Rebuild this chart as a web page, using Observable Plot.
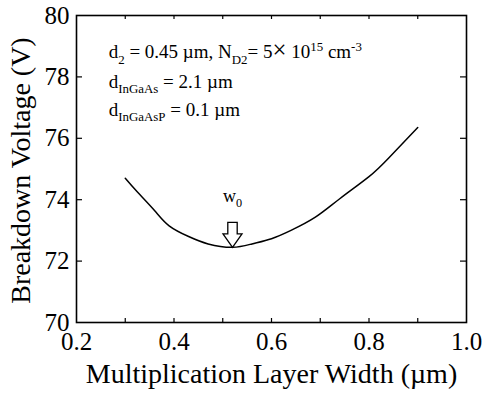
<!DOCTYPE html>
<html><head><meta charset="utf-8">
<script src="https://cdn.jsdelivr.net/npm/d3@7"></script>
<script src="https://cdn.jsdelivr.net/npm/@observablehq/plot@0.6"></script>
<style>body{margin:0;background:#fff}</style>
</head><body><div id="chart"></div>
<script>
// ---- data ----
const widths   = [0.30, 0.325, 0.36, 0.39, 0.43, 0.47, 0.52, 0.56, 0.60, 0.64, 0.69, 0.74, 0.80, 0.84, 0.90];
const voltages = [74.70, 74.25, 73.65, 73.15, 72.80, 72.56, 72.45, 72.56, 72.73, 73.00, 73.43, 74.03, 74.75, 75.35, 76.35];
const xTickValues = [0.2, 0.4, 0.6, 0.8, 1.0];
const xMinorTicks = [0.3, 0.4, 0.5, 0.6, 0.7, 0.8, 0.9];
const yTickValues = [70, 72, 74, 76, 78, 80];
const yInnerTicks = [72, 74, 76, 78];
const xTitle = "Multiplication Layer Width (µm)";
const yTitle = "Breakdown Voltage (V)";
const minimumPoint = {w: 0.52, v: 72.45};
const annoLines = [
  [["d"], ["2", "sub"], [" = 0.45 µm, N"], ["D2", "sub"], ["= 5"], ["×"], [" 10"], ["15", "sup"], [" cm"], ["-3", "sup"]],
  [["d"], ["InGaAs", "sub"], [" = 2.1 µm"]],
  [["d"], ["InGaAsP", "sub"], [" = 0.1 µm"]]
];
const annoX = 0.266;
const annoY = [78.8, 77.85, 76.94];
const markerLabel = [["w"], ["0", "sub"]];

// ---- layout ----
const W = 484, H = 394, ML = 76, MR = 18, MT = 15, MB = 72;
const plotW = W - ML - MR, plotH = H - MT - MB;
const curveData = widths.map((w, i) => ({w, v: voltages[i]}));
const plainOf = segs => segs.map(s => s[0]).join("");
const annoData = annoLines.map((segs, i) => ({x: annoX, y: annoY[i], t: plainOf(segs)}));

const arrowSymbol = {
  draw(ctx) {
    ctx.moveTo(0, 0);
    ctx.lineTo(-9.5, -13.5);
    ctx.lineTo(-4.7, -13.5);
    ctx.lineTo(-4.7, -25);
    ctx.lineTo(4.7, -25);
    ctx.lineTo(4.7, -13.5);
    ctx.lineTo(9.5, -13.5);
    ctx.closePath();
  }
};

const plot = Plot.plot({
  width: W, height: H,
  marginLeft: ML, marginRight: MR, marginTop: MT, marginBottom: MB,
  style: {fontFamily: "'Liberation Serif','Times New Roman',serif", fontSize: "25px", background: "white", color: "black"},
  x: {domain: [0.2, 1.0], label: null},
  y: {domain: [70, 80], label: null},
  marks: [
    Plot.tickY(yInnerTicks, {y: d => d, insetRight: plotW - 6, stroke: "black", strokeWidth: 1.2}),
    Plot.tickY(yInnerTicks, {y: d => d, insetLeft: plotW - 6, stroke: "black", strokeWidth: 1.2}),
    Plot.tickX(xMinorTicks, {x: d => d, insetTop: plotH - 4, stroke: "black", strokeWidth: 1.2}),
    Plot.tickX(xMinorTicks, {x: d => d, insetBottom: plotH - 4, stroke: "black", strokeWidth: 1.2}),
    Plot.frame({stroke: "black", strokeWidth: 1.6}),
    Plot.axisX({ticks: xTickValues, tickSize: 0, tickPadding: 10, tickFormat: d3.format(".1f"), label: null, fontSize: 25}),
    Plot.axisY({ticks: yTickValues, tickSize: 0, tickPadding: 7, label: null, fontSize: 25}),
    Plot.text([xTitle], {text: d => d, frameAnchor: "bottom", dy: 60, fontSize: 28}),
    Plot.text([yTitle], {text: d => d, x: () => 0.2, y: () => 74.95, rotate: -90, dx: -55, fontSize: 28}),
    Plot.line(curveData, {x: "w", y: "v", curve: "natural", stroke: "black", strokeWidth: 1.5}),
    Plot.dot([minimumPoint], {x: "w", y: "v", symbol: arrowSymbol, fill: "white", stroke: "black", strokeWidth: 1.3}),
    Plot.text(annoData, {x: "x", y: "y", text: "t", textAnchor: "start", fontSize: 19}),
    Plot.text([minimumPoint], {x: "w", y: "v", text: () => plainOf(markerLabel), dy: -51, fontSize: 18})
  ]
});

function richText(svg, segs, fontSize) {
  const plain = plainOf(segs);
  d3.select(svg).selectAll("text").filter(function () { return this.textContent === plain; }).each(function () {
    const t = d3.select(this);
    t.text(null);
    let shift = 0;
    for (const [s, kind] of segs) {
      const target = kind === "sub" ? 0.3 * fontSize : kind === "sup" ? -0.38 * fontSize : 0;
      const sp = t.append("tspan").attr("dy", target - shift).text(s);
      if (kind) sp.attr("font-size", fontSize * 0.68);
      if (s === "×") sp.attr("font-size", fontSize * 1.3);
      shift = target;
    }
  });
}
annoLines.forEach(segs => richText(plot, segs, 19));
richText(plot, markerLabel, 18);

document.getElementById("chart").appendChild(plot);
</script>
</body></html>
